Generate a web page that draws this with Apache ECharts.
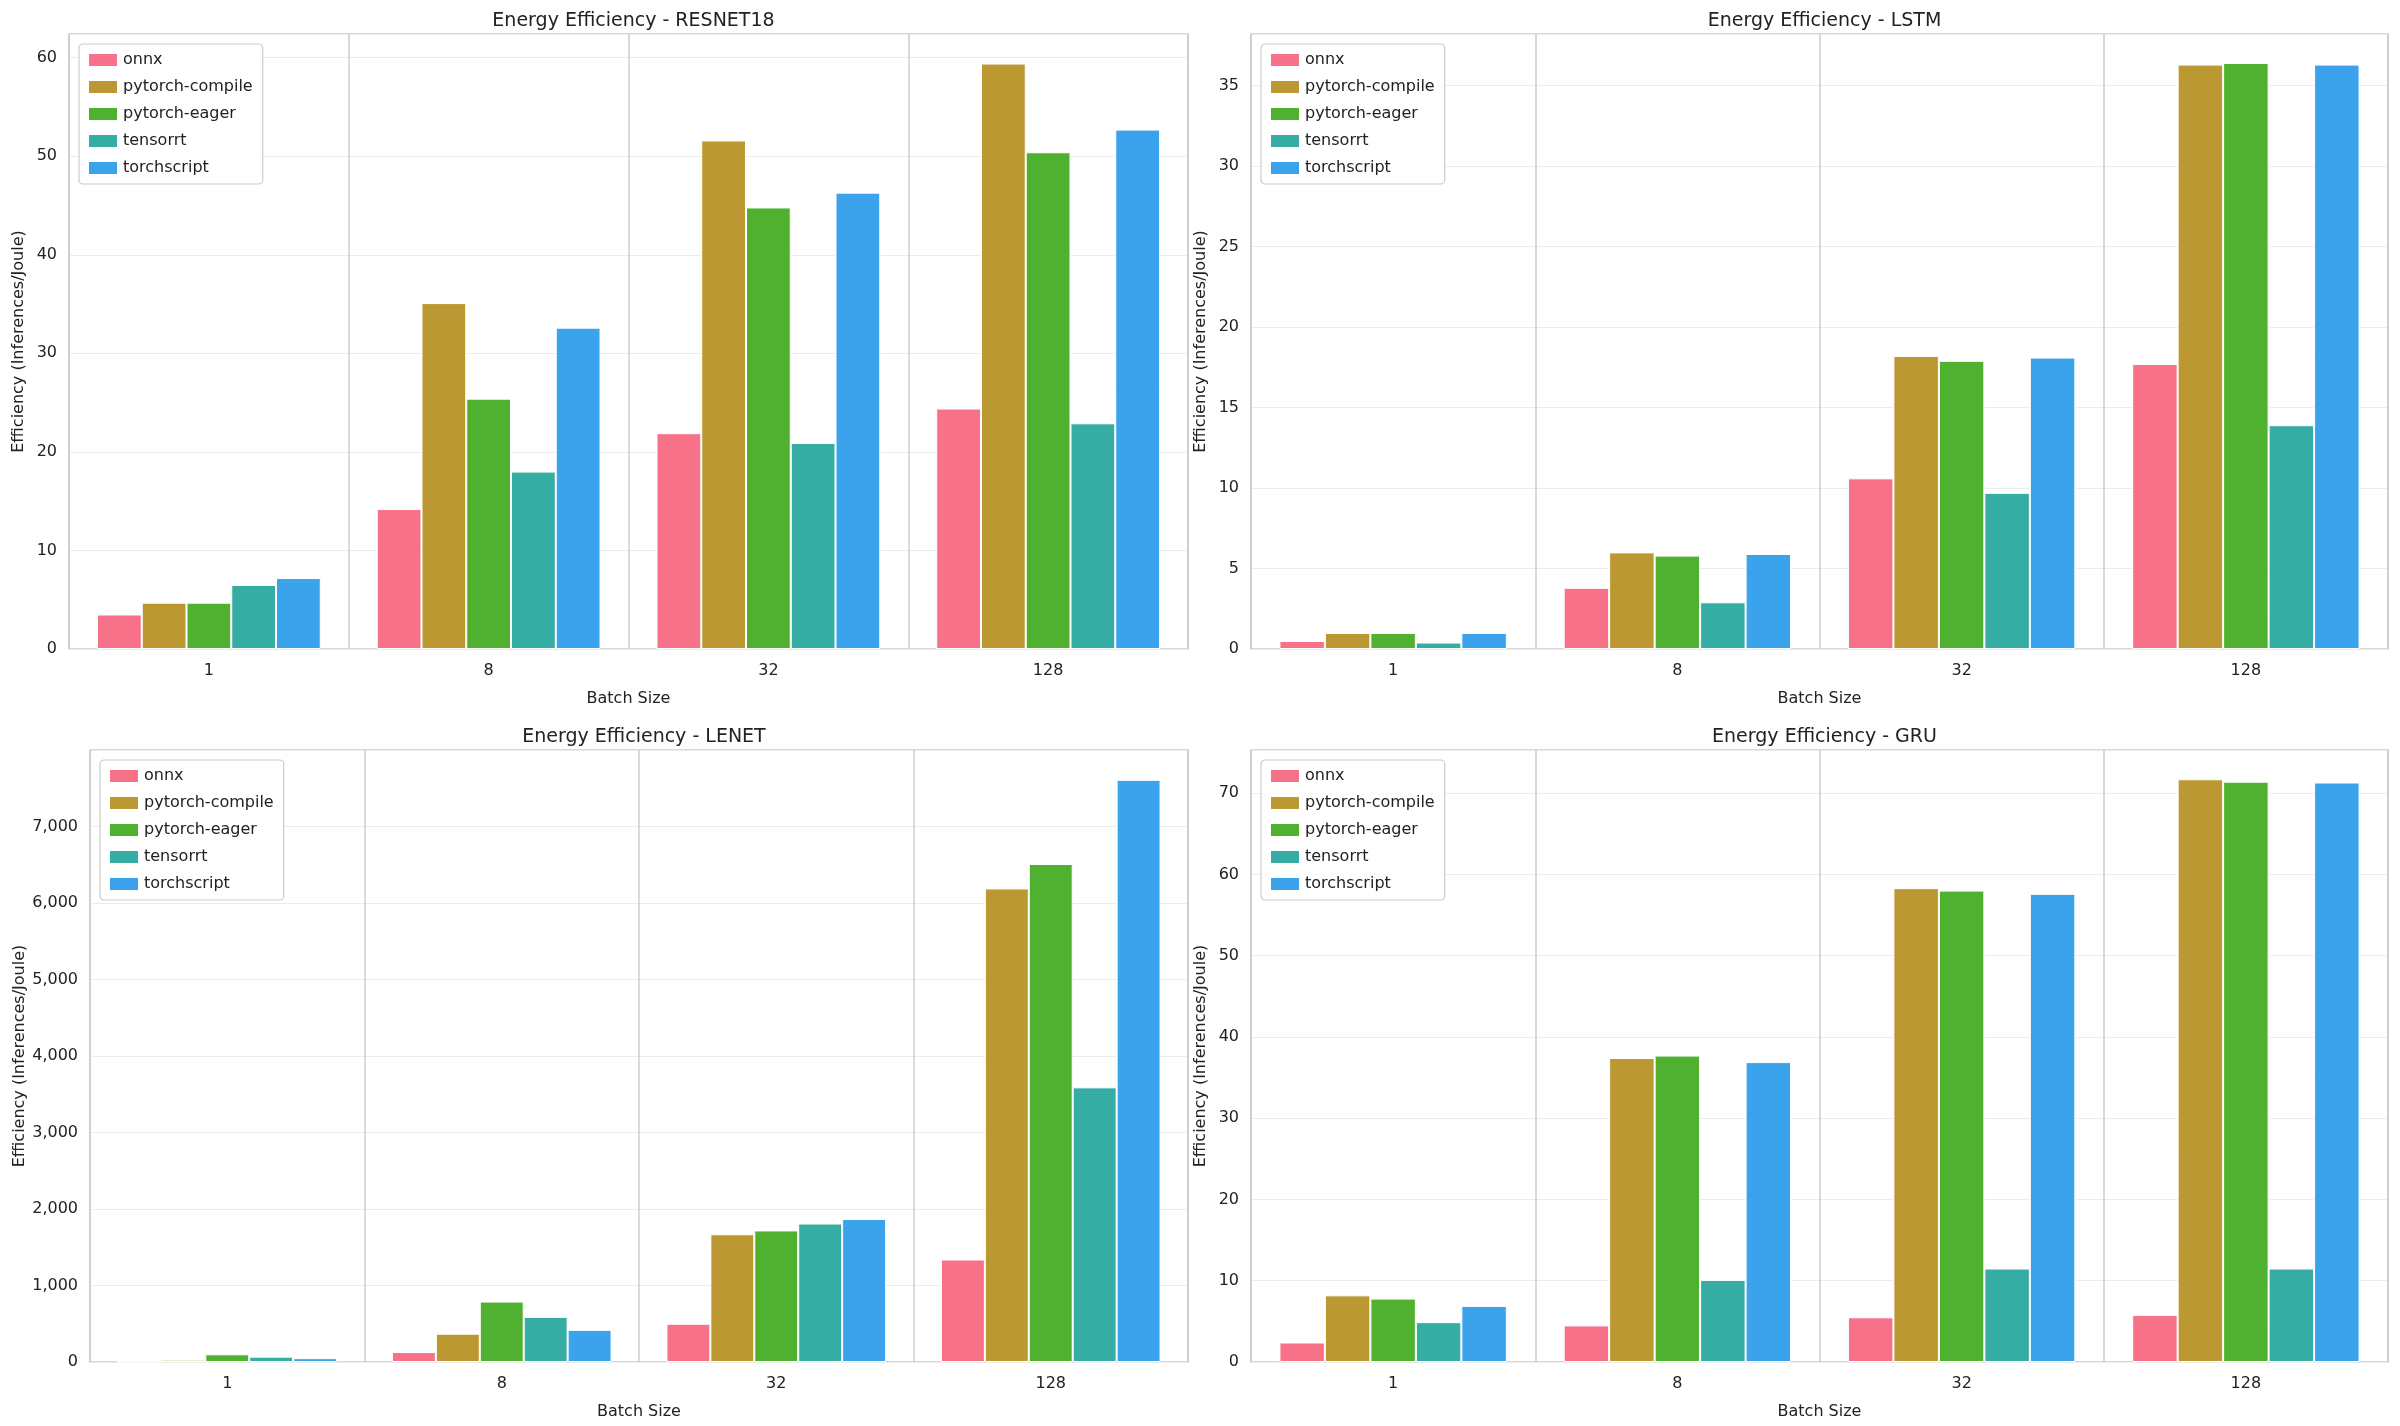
<!DOCTYPE html>
<html><head><meta charset="utf-8">
<script src="https://cdn.jsdelivr.net/npm/echarts@6/dist/echarts.min.js"></script>
<style>html,body{margin:0;padding:0;background:#fff}#c{width:2400px;height:1426px}</style>
</head><body><div id="c"></div>
<script>
const categories = ['1','8','32','128'];
const frameworks = ['onnx','pytorch-compile','pytorch-eager','tensorrt','torchscript'];
const colors = ['#f77189','#bb9832','#50b131','#36ada4','#3ba3ec'];
const panelTitles = ['Energy Efficiency - RESNET18','Energy Efficiency - LSTM','Energy Efficiency - LENET','Energy Efficiency - GRU'];
const resnet18 = [[3.5,14.2,21.9,24.4],[4.7,35.1,51.6,59.4],[4.7,25.4,44.8,50.4],[6.5,18.0,20.9,22.9],[7.2,32.6,46.3,52.7]];
const lstm = [[0.5,3.8,10.6,17.7],[1.0,6.0,18.2,36.3],[1.0,5.8,17.9,36.4],[0.4,2.9,9.7,13.9],[1.0,5.9,18.1,36.3]];
const lenet = [[5,130,500,1340],[30,370,1670,6190],[100,790,1720,6510],[70,590,1810,3590],[50,420,1870,7610]];
const gru = [[2.4,4.5,5.5,5.8],[8.2,37.4,58.3,71.7],[7.8,37.7,58.0,71.4],[4.9,10.1,11.5,11.5],[6.9,36.9,57.6,71.3]];
const panelData = [resnet18,lstm,lenet,gru];
const yMax = [62.4,38.2,8000,75.3];
const yInterval = [10,5,1000,10];

const grids = [
  {left:69,top:34,width:1119,height:615},
  {left:1251,top:34,width:1137,height:615},
  {left:90,top:750,width:1098,height:612},
  {left:1251,top:750,width:1137,height:612}
];
const font = 'DejaVu Sans';
const opt = {backgroundColor:'#fff',animation:false,title:[],grid:[],xAxis:[],yAxis:[],legend:[],series:[]};
grids.forEach((g,i)=>{
  opt.grid.push(Object.assign({show:true,borderColor:'#cccccc',borderWidth:1.5},g));
  opt.title.push({text:panelTitles[i],left:g.left+g.width/2,top:g.top-27,textAlign:'center',
    textStyle:{fontFamily:font,fontSize:19,fontWeight:'normal',color:'#222'}});
  opt.xAxis.push({type:'category',gridIndex:i,data:categories,name:'Batch Size',nameLocation:'middle',nameGap:42,
    nameTextStyle:{fontFamily:font,fontSize:16,color:'#222'},
    axisLine:{show:false},axisTick:{show:false},
    axisLabel:{fontFamily:font,fontSize:16,color:'#222',margin:14},
    splitLine:{show:true,interval:0,lineStyle:{color:'#cccccc',width:1.5}},boundaryGap:true});
  opt.yAxis.push({type:'value',gridIndex:i,min:0,max:yMax[i],interval:yInterval[i],
    name:'Efficiency (Inferences/Joule)',nameLocation:'middle',nameGap:i===2?62:42,
    nameTextStyle:{fontFamily:font,fontSize:16,color:'#222'},
    axisLine:{show:false},axisTick:{show:false},
    axisLabel:{fontFamily:font,fontSize:16,color:'#222',margin:12,showMaxLabel:false},
    splitLine:{lineStyle:{color:'#ececec',width:1.2}}});
  opt.legend.push({orient:'vertical',left:g.left+10,top:g.top+10,data:frameworks,itemWidth:30,itemHeight:14,itemGap:11,
    backgroundColor:'rgba(255,255,255,0.85)',borderColor:'#cccccc',borderWidth:1.2,borderRadius:4,padding:[8,10,8,8],
    icon:'rect',textStyle:{fontFamily:font,fontSize:16,color:'#222'},selectedMode:false});
  frameworks.forEach((f,k)=>{
    opt.series.push({type:'bar',name:f,xAxisIndex:i,yAxisIndex:i,data:panelData[i][k],
      barGap:'0%',barCategoryGap:'20%',z:3,
      itemStyle:{color:colors[k],borderColor:'#fff',borderWidth:1}});
  });
});
opt.color = colors;
echarts.init(document.getElementById('c')).setOption(opt);
</script></body></html>
